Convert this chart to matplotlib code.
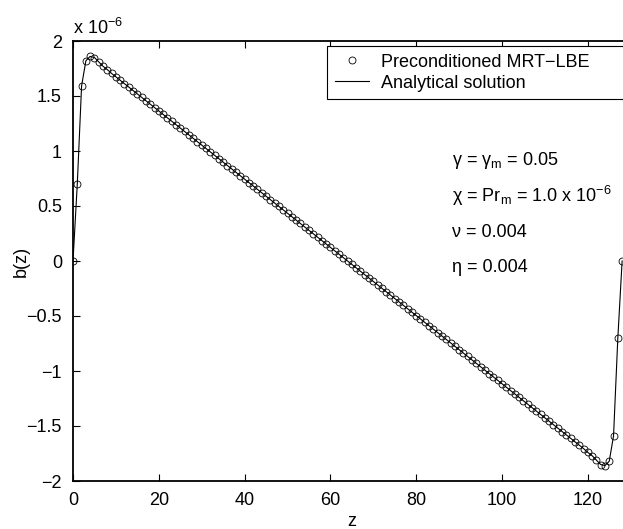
import matplotlib.pyplot as plt
import numpy as np

plt.rcParams['font.family'] = ['Liberation Sans', 'DejaVu Sans']
plt.rcParams['mathtext.fontset'] = 'custom'
plt.rcParams['mathtext.rm'] = 'Liberation Sans'
plt.rcParams['mathtext.it'] = 'Liberation Sans'

# grid nodes z and magnetic field b(z) in units of 1e-6
z = np.arange(0, 129)
b_lbe = [0.0, 0.70, 1.59, 1.82, 1.86, 1.85, 1.81, 1.77, 1.74, 1.705,
         1.674, 1.643, 1.612, 1.581, 1.550, 1.519, 1.488, 1.457, 1.426, 1.395,
         1.364, 1.333, 1.302, 1.271, 1.240, 1.209, 1.178, 1.147, 1.116, 1.085,
         1.054, 1.023, 0.992, 0.961, 0.930, 0.899, 0.868, 0.837, 0.806, 0.775,
         0.744, 0.713, 0.682, 0.651, 0.620, 0.589, 0.558, 0.527, 0.496, 0.465,
         0.434, 0.403, 0.372, 0.341, 0.310, 0.279, 0.248, 0.217, 0.186, 0.155,
         0.124, 0.093, 0.062, 0.031, 0.0, -0.031, -0.062, -0.093, -0.124, -0.155,
         -0.186, -0.217, -0.248, -0.279, -0.310, -0.341, -0.372, -0.403, -0.434, -0.465,
         -0.496, -0.527, -0.558, -0.589, -0.620, -0.651, -0.682, -0.713, -0.744, -0.775,
         -0.806, -0.837, -0.868, -0.899, -0.930, -0.961, -0.992, -1.023, -1.054, -1.085,
         -1.116, -1.147, -1.178, -1.209, -1.240, -1.271, -1.302, -1.333, -1.364, -1.395,
         -1.426, -1.457, -1.488, -1.519, -1.550, -1.581, -1.612, -1.643, -1.674, -1.705,
         -1.74, -1.77, -1.81, -1.85, -1.86, -1.82, -1.59, -0.70, 0.0]
b_analytic = list(b_lbe)

xticks = [0, 20, 40, 60, 80, 100, 120]
yticks = [-2, -1.5, -1, -0.5, 0, 0.5, 1, 1.5, 2]
ylabels = ['\u22122', '\u22121.5', '\u22121', '\u22120.5', '0', '0.5', '1', '1.5', '2']

fig = plt.figure(figsize=(6.23, 5.29), dpi=100)
ax = fig.add_axes([73/623, 48/529, 557.7/623, 440/529])

ax.plot(z, b_lbe, 'o', mfc='none', mec='black', ms=5, mew=0.6,
        label='Preconditioned MRT\u2212LBE')
ax.plot(z, b_analytic, '-', color='black', lw=0.8, label='Analytical solution')

ax.set_xlim(0, 130)
ax.set_ylim(-2, 2)
ax.set_xticks(xticks)
ax.set_yticks(yticks)
ax.set_yticklabels(ylabels)
ax.tick_params(direction='in', length=5, width=0.8, top=True, right=True,
               labelsize=13, pad=8)
for s in ax.spines.values():
    s.set_linewidth(1.3)

ax.set_xlabel('z', fontsize=13, labelpad=3)
ax.set_ylabel('b(z)', fontsize=13)
ax.yaxis.set_label_coords(-0.077, 0.5)
ax.text(0.0, 1.006, 'x 10$^{\u22126}$', transform=ax.transAxes, fontsize=13,
        ha='left', va='bottom')

leg = ax.legend(loc='upper left', bbox_to_anchor=(0.4554, 0.0, 0.543, 0.9886),
                mode='expand', fontsize=13,
                frameon=True, fancybox=False, edgecolor='black', framealpha=1,
                borderaxespad=0, handlelength=1.9, handletextpad=0.65,
                borderpad=0.42, labelspacing=0.22)
leg.get_frame().set_linewidth(0.8)

notes = ['\u03b3 = \u03b3$_{\\mathrm{m}}$ = 0.05',
         '\u03c7 = Pr$_{\\mathrm{m}}$ = 1.0 x 10$^{\u22126}$',
         '\u03bd = 0.004',
         '\u03b7 = 0.004']
note_y = [0.718, 0.634, 0.555, 0.475]
for t, yy in zip(notes, note_y):
    ax.text(0.68, yy, t, transform=ax.transAxes, fontsize=13, va='baseline')

fig.savefig('out.png', dpi=100)
